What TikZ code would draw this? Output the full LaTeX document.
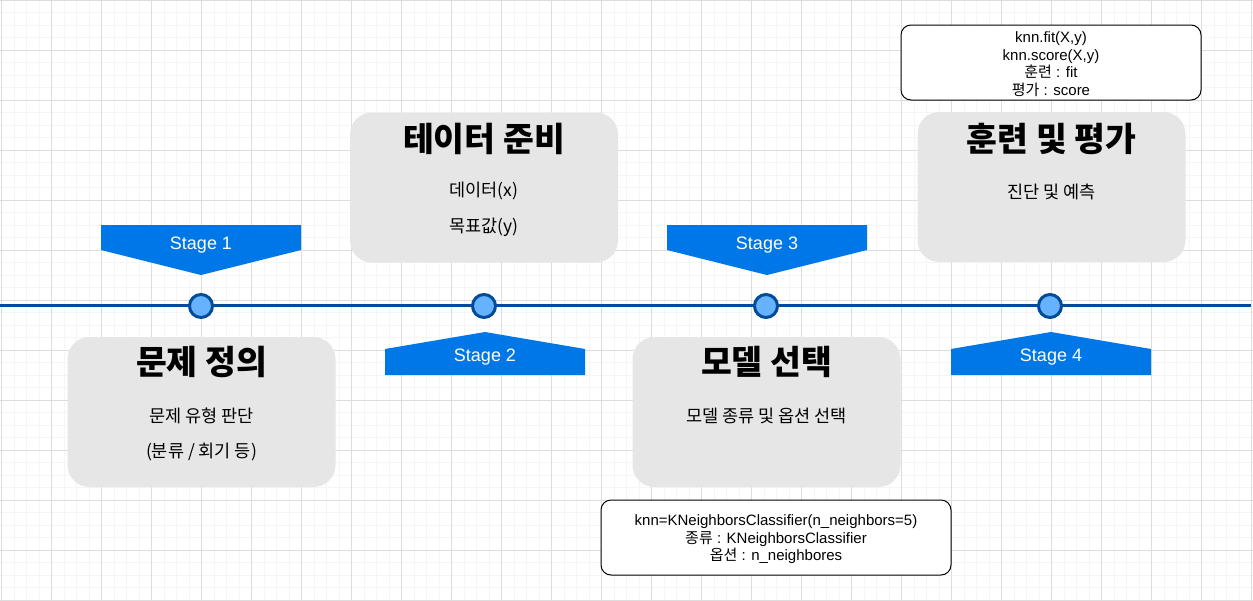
\documentclass[tikz,border=0pt]{standalone}
\usepackage{fontspec}
\setmainfont{Liberation Sans}
\newfontfamily\kr{Noto Sans CJK KR}
\usepackage{tikz}
\usetikzlibrary{calc}
\usetikzlibrary{arrows.meta}
\definecolor{gridminor}{HTML}{F5F5F5}
\definecolor{gridmajor}{HTML}{DDDDDD}
\definecolor{stageblue}{HTML}{0077E6}
\definecolor{linedark}{HTML}{004C99}
\definecolor{dotfill}{HTML}{66B2FF}
\definecolor{boxgray}{HTML}{E6E6E6}
\tikzset{dot/.style={circle,inner sep=0pt,minimum size=23pt,draw=linedark,line width=3pt,fill=dotfill}}
\tikzset{stagefill/.style={fill=stageblue}}
\tikzset{stagetext/.style={text=white,font=\fontsize{18}{20}\selectfont}}
\tikzset{phase/.style={fill=boxgray,rounded corners=22pt,minimum width=268pt,minimum height=150pt,inner sep=0pt}}
\tikzset{phasetitle/.style={font=\kr\bfseries\fontsize{33.5}{38}\selectfont}}
\tikzset{phasetext/.style={font=\kr\fontsize{17.5}{20}\selectfont}}
\tikzset{note/.style={draw,line width=1pt,fill=white,rounded corners=10pt,align=center,inner sep=0pt,font=\fontsize{15}{17.5}\selectfont}}

\begin{document}
\begin{tikzpicture}[x=1pt,y=-1pt]
                    \useasboundingbox (0,0) rectangle (1253,600);
                    \fill[white] (0,0) rectangle (1253,600);
                    % grid
                    \foreach \gx in {0,...,100} {\draw[gridminor,line width=1pt] ({1.5+12.5*\gx},0) -- ({1.5+12.5*\gx},600);}
                    \foreach \gy in {0,...,48} {\draw[gridminor,line width=1pt] (0,{12.5*\gy}) -- (1253,{12.5*\gy});}
                    \foreach \gx in {0,...,25} {\draw[gridmajor,line width=1pt] ({1.5+50*\gx},0) -- ({1.5+50*\gx},600);}
                    \foreach \gy in {0,...,12} {\draw[gridmajor,line width=1pt] (0,{50*\gy}) -- (1253,{50*\gy});}

                    % timeline
                    \coordinate (tlstart) at (0,305);
                    \coordinate (tlend) at (1251,305);
                    \draw[linedark, line width=3pt] (tlstart) -- (tlend);

                    \node[dot] (d1) at (201,306) {};
                    \node[dot] (d2) at (484,306) {};
                    \node[dot] (d3) at (766,306) {};
                    \node[dot] (d4) at (1050,306) {};

                    % stage banners
                    \fill[stagefill] (101,225) -- (301,225) -- (301,250) -- (201,275) -- (101,250) -- cycle;
                    \node[stagetext] (s1) at (201,245.5) {Stage 1};
                    \fill[stagefill] (385,375) -- (585,375) -- (585,349) -- (485,332) -- (385,349) -- cycle;
                    \node[stagetext] (s2) at (485,357.5) {Stage 2};
                    \fill[stagefill] (667,225) -- (867,225) -- (867,250) -- (767,275) -- (667,250) -- cycle;
                    \node[stagetext] (s3) at (767,245.5) {Stage 3};
                    \fill[stagefill] (951,375) -- (1151,375) -- (1151,349) -- (1051,332) -- (951,349) -- cycle;
                    \node[stagetext] (s4) at (1051,357.5) {Stage 4};

                    % phase boxes
                    \node[phase] (p1) at (201.5,412) {};
                    \node[phasetitle] (p1t) at (201.5,362) {문제 정의};
                    \node[phasetext] (p1a) at (201.5,416) {문제 유형 판단};
                    \node[phasetext] (p1b) at (201.5,452) {(분류 / 회기 등)};

                    \node[phase] (p2) at (484,187.5) {};
                    \node[phasetitle] (p2t) at (484,139) {테이터 준비};
                    \node[phasetext] (p2a) at (484,191) {데이터(x)};
                    \node[phasetext] (p2b) at (484,227) {목표값(y)};

                    \node[phase] (p3) at (766.5,412) {};
                    \node[phasetitle] (p3t) at (766.5,362) {모델 선택};
                    \node[phasetext] (p3a) at (766.5,416) {모델 종류 및 옵션 선택};

                    \node[phase] (p4) at (1051.5,187) {};
                    \node[phasetitle] (p4t) at (1051.5,139) {훈련 및 평가};
                    \node[phasetext] (p4a) at (1051.5,192) {진단 및 예측};

                    % notes
                    \node[note, minimum width=300pt, minimum height=75pt] (n1) at (1051,62.5) {};
                    \node[note, draw=none, fill=none] (n1t) at (1051,64)
                        {knn.fit(X,y)\\knn.score(X,y)\\{\kr 훈련} : fit\\{\kr 평가} : score};
                    \node[note, minimum width=350pt, minimum height=75pt] (n2) at (776,537.5) {};
                    \node[note, draw=none, fill=none] (n2t) at (776,539.5)
                        {knn=KNeighborsClassifier(n\_neighbors=5)\\{\kr 종류} : KNeighborsClassifier\\{\kr 옵션} : n\_neighbores};

                \end{tikzpicture}
\end{document}
